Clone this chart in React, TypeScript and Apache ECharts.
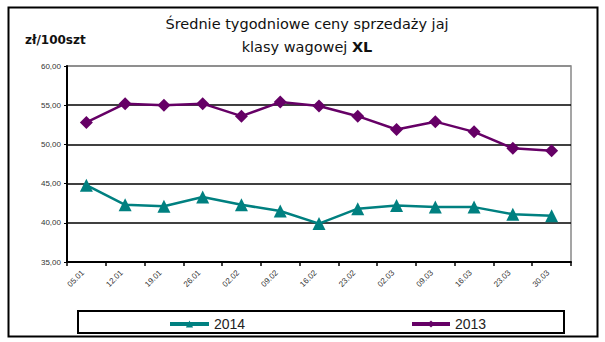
import React, { useEffect, useRef } from "react";
import * as echarts from "echarts";

const categories = ["05.01", "12.01", "19.01", "26.01", "02.02", "09.02", "16.02", "23.02", "02.03", "09.03", "16.03", "23.03", "30.03"];
const values2014 = [44.8, 42.3, 42.1, 43.3, 42.3, 41.5, 39.9, 41.8, 42.2, 42.0, 42.0, 41.1, 40.9];
const values2013 = [52.8, 55.2, 55.0, 55.2, 53.6, 55.4, 54.9, 53.6, 51.9, 52.9, 51.6, 49.5, 49.2];
const titleLine1 = "Średnie tygodniowe ceny sprzedaży jaj";
const titleLine2a = "klasy wagowej ";
const titleLine2b = "XL";
const unitLabel = "zł/100szt";

export default function App() {
  const ref = useRef<HTMLDivElement>(null);
  useEffect(() => {
    if (!ref.current) return;
    const chart = echarts.init(ref.current, null, { renderer: "svg" });
    const font = "Liberation Sans, Arial, sans-serif";
    const wide = "DejaVu Sans, sans-serif";
    chart.setOption({
      animation: false,
      backgroundColor: "#fff",
      textStyle: { fontFamily: font },
      graphic: [
        { type: "rect", shape: { x: 8.5, y: 7.5, width: 589, height: 329 }, style: { fill: "none", stroke: "#000", lineWidth: 2 } },
        { type: "rect", shape: { x: 78, y: 311, width: 486, height: 22 }, style: { fill: "none", stroke: "#000", lineWidth: 2 } },
        { type: "text", x: 307, y: 16, style: { text: titleLine1, font: "14.5px " + wide, fill: "#111", textAlign: "center" } },
        {
          type: "text",
          x: 307,
          y: 39,
          style: {
            text: "{a|" + titleLine2a + "}{b|" + titleLine2b + "}",
            textAlign: "center",
            rich: {
              a: { fontFamily: wide, fontSize: 14.5, fill: "#111", color: "#111" },
              b: { fontFamily: wide, fontSize: 14.5, fontWeight: "bold", fill: "#111", color: "#111" },
            },
          },
        },
        { type: "text", x: 25, y: 34, style: { text: unitLabel, font: "bold 12px " + wide, fill: "#111" } },
      ],
      legend: [
        { data: ["2014"], left: 163, top: 312, itemWidth: 39, itemHeight: 9, itemGap: 4, lineStyle: { width: 4 }, textStyle: { fontSize: 14, color: "#222", fontFamily: font } },
        { data: ["2013"], left: 405, top: 312, itemWidth: 38, itemHeight: 9, itemGap: 4, lineStyle: { width: 4 }, textStyle: { fontSize: 14, color: "#222", fontFamily: font } },
      ],
      grid: { left: 67, top: 66, width: 504, height: 196, show: true, borderColor: "#888", borderWidth: 1.5 },
      xAxis: {
        type: "category",
        data: categories,
        boundaryGap: true,
        axisLine: { lineStyle: { color: "#000", width: 2 } },
        axisTick: { show: true, length: 4, lineStyle: { color: "#000", width: 1.5 } },
        axisLabel: { rotate: 45, fontSize: 8, color: "#333", margin: 6, padding: [0, 5, 0, 0] },
      },
      yAxis: {
        type: "value",
        min: 35,
        max: 60,
        interval: 5,
        axisLine: { show: true, lineStyle: { color: "#000", width: 2 } },
        axisTick: { show: true, length: 3, lineStyle: { color: "#000" } },
        axisLabel: { fontSize: 8, color: "#333", margin: 6, formatter: (v: number) => v.toFixed(2).replace(".", ",") },
        splitLine: { show: true, lineStyle: { color: ["#000", "#000", "#000", "#000", "#000", "#888"], width: 1.6 } },
      },
      series: [
        {
          name: "2014",
          type: "line",
          data: values2014,
          symbol: "triangle",
          symbolSize: 13,
          itemStyle: { color: "#008080" },
          lineStyle: { color: "#008080", width: 2.5 },
        },
        {
          name: "2013",
          type: "line",
          data: values2013,
          symbol: "diamond",
          symbolSize: 13,
          itemStyle: { color: "#660066" },
          lineStyle: { color: "#660066", width: 2.5 },
        },
      ],
    });
    return () => chart.dispose();
  }, []);
  return <div ref={ref} style={{ position: "fixed", left: 0, top: 0, width: 605, height: 342 }} />;
}
